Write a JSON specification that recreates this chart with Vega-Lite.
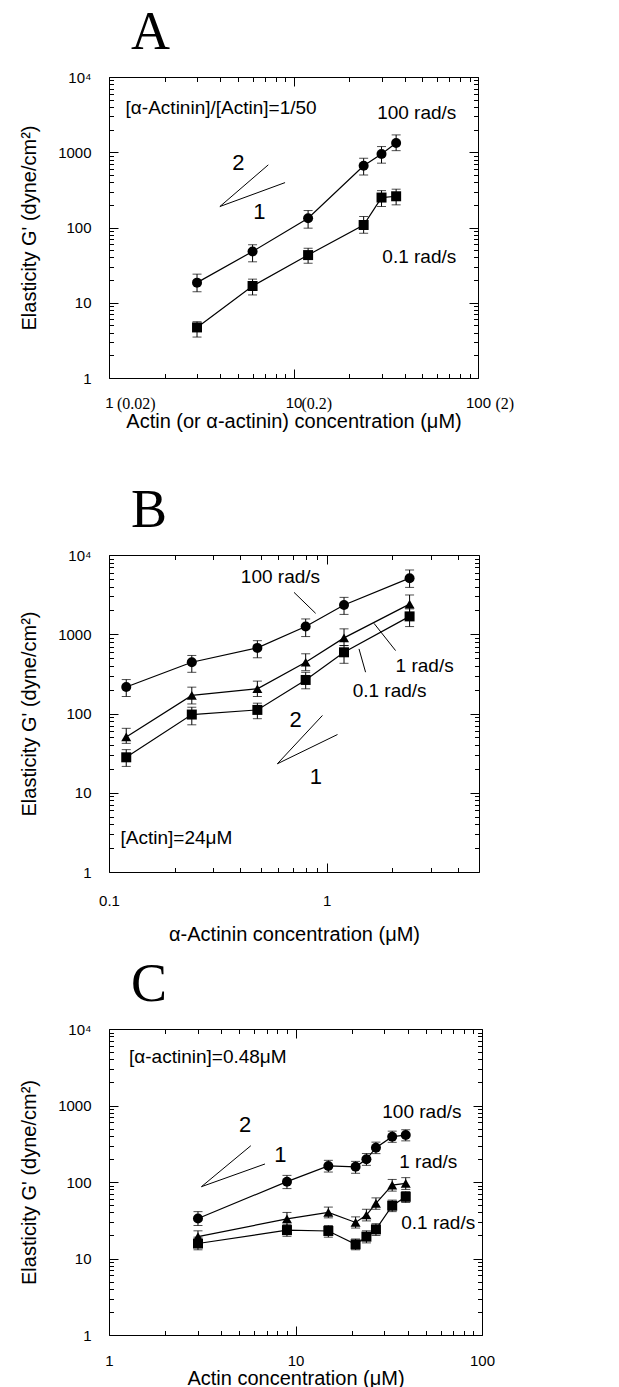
{
  "$schema": "https://vega.github.io/schema/vega-lite/v6.json",
  "padding": {"left": 18, "top": 5, "right": 5, "bottom": 0},
  "spacing": 51,
  "config": {
    "view": {"stroke": "black", "strokeWidth": 1},
    "axis": {"domain": false, "grid": false, "tickColor": "black", "tickWidth": 1, "labelColor": "black", "titleColor": "black", "labelFont": "Liberation Sans", "titleFont": "Liberation Sans", "titleFontWeight": "normal", "labelFlush": false, "labelOverlap": false},
    "title": {"font": "Liberation Serif", "fontSize": 54, "fontWeight": "normal", "color": "black", "anchor": "start", "frame": "group"}
  },
  "datasets": {
    "A": [
      {"freq": "100 rad/s", "conc": 3, "G": 18.5, "lo": 14, "hi": 24},
      {"freq": "100 rad/s", "conc": 6, "G": 48, "lo": 35, "hi": 59},
      {"freq": "100 rad/s", "conc": 12, "G": 133, "lo": 98, "hi": 168},
      {"freq": "100 rad/s", "conc": 24, "G": 660, "lo": 500, "hi": 830},
      {"freq": "100 rad/s", "conc": 30, "G": 950, "lo": 716, "hi": 1190},
      {"freq": "100 rad/s", "conc": 36, "G": 1330, "lo": 1050, "hi": 1700},
      {"freq": "0.1 rad/s", "conc": 3, "G": 4.7, "lo": 3.5, "hi": 5.6},
      {"freq": "0.1 rad/s", "conc": 6, "G": 16.7, "lo": 12.7, "hi": 20.6},
      {"freq": "0.1 rad/s", "conc": 12, "G": 43, "lo": 33.5, "hi": 53},
      {"freq": "0.1 rad/s", "conc": 24, "G": 108, "lo": 84, "hi": 140},
      {"freq": "0.1 rad/s", "conc": 30, "G": 250, "lo": 190, "hi": 309},
      {"freq": "0.1 rad/s", "conc": 36, "G": 260, "lo": 200, "hi": 323}
    ],
    "Atext": [
      {"x": 1.23, "y": 3890, "label": "[α-Actinin]/[Actin]=1/50"},
      {"x": 28.4, "y": 3340, "label": "100 rad/s"},
      {"x": 30.3, "y": 40.6, "label": "0.1 rad/s"}
    ],
    "Alines": [
      {"g": "slope", "o": 1, "x": 7.3, "y": 680},
      {"g": "slope", "o": 2, "x": 3.99, "y": 190},
      {"g": "slope", "o": 3, "x": 9.0, "y": 395}
    ],
    "Anum": [
      {"x": 5.03, "y": 722, "label": "2"},
      {"x": 6.54, "y": 161, "label": "1"}
    ],
    "B": [
      {"freq": "100 rad/s", "conc": 0.12, "G": 216, "lo": 164, "hi": 268},
      {"freq": "100 rad/s", "conc": 0.24, "G": 443, "lo": 331, "hi": 540},
      {"freq": "100 rad/s", "conc": 0.48, "G": 673, "lo": 505, "hi": 830},
      {"freq": "100 rad/s", "conc": 0.8, "G": 1250, "lo": 935, "hi": 1560},
      {"freq": "100 rad/s", "conc": 1.2, "G": 2340, "lo": 1780, "hi": 2920},
      {"freq": "100 rad/s", "conc": 2.4, "G": 5100, "lo": 3900, "hi": 6470},
      {"freq": "1 rad/s", "conc": 0.12, "G": 50.6, "lo": 42, "hi": 65},
      {"freq": "1 rad/s", "conc": 0.24, "G": 169, "lo": 132, "hi": 215},
      {"freq": "1 rad/s", "conc": 0.48, "G": 205, "lo": 164, "hi": 256},
      {"freq": "1 rad/s", "conc": 0.8, "G": 443, "lo": 347, "hi": 567},
      {"freq": "1 rad/s", "conc": 1.2, "G": 900, "lo": 720, "hi": 1170},
      {"freq": "1 rad/s", "conc": 2.4, "G": 2400, "lo": 1820, "hi": 3130},
      {"freq": "0.1 rad/s", "conc": 0.12, "G": 28, "lo": 21.5, "hi": 35},
      {"freq": "0.1 rad/s", "conc": 0.24, "G": 97, "lo": 72, "hi": 120},
      {"freq": "0.1 rad/s", "conc": 0.48, "G": 111, "lo": 86, "hi": 135},
      {"freq": "0.1 rad/s", "conc": 0.8, "G": 265, "lo": 205, "hi": 331},
      {"freq": "0.1 rad/s", "conc": 1.2, "G": 592, "lo": 430, "hi": 720},
      {"freq": "0.1 rad/s", "conc": 2.4, "G": 1680, "lo": 1250, "hi": 2090}
    ],
    "Btext": [
      {"x": 0.403, "y": 5220, "label": "100 rad/s"},
      {"x": 2.07, "y": 403, "label": "1 rad/s"},
      {"x": 1.315, "y": 195, "label": "0.1 rad/s"},
      {"x": 0.113, "y": 2.66, "label": "[Actin]=24μM"}
    ],
    "Blines": [
      {"g": "slope", "o": 1, "x": 0.955, "y": 94.4},
      {"g": "slope", "o": 2, "x": 0.593, "y": 23.2},
      {"g": "slope", "o": 3, "x": 1.12, "y": 54.3},
      {"g": "l100", "o": 1, "x": 0.707, "y": 3380},
      {"g": "l100", "o": 2, "x": 0.889, "y": 1836},
      {"g": "l1", "o": 1, "x": 1.647, "y": 1374},
      {"g": "l1", "o": 2, "x": 2.07, "y": 622},
      {"g": "l01", "o": 1, "x": 1.406, "y": 653},
      {"g": "l01", "o": 2, "x": 1.507, "y": 332}
    ],
    "Bnum": [
      {"x": 0.72, "y": 81.6, "label": "2"},
      {"x": 0.89, "y": 15.7, "label": "1"}
    ],
    "C": [
      {"freq": "100 rad/s", "conc": 3, "G": 33.4, "lo": 27, "hi": 41},
      {"freq": "100 rad/s", "conc": 9, "G": 101, "lo": 82, "hi": 122},
      {"freq": "100 rad/s", "conc": 15, "G": 162, "lo": 135, "hi": 192},
      {"freq": "100 rad/s", "conc": 21, "G": 158, "lo": 130, "hi": 186},
      {"freq": "100 rad/s", "conc": 24, "G": 198, "lo": 165, "hi": 236},
      {"freq": "100 rad/s", "conc": 27, "G": 281, "lo": 235, "hi": 332},
      {"freq": "100 rad/s", "conc": 33, "G": 391, "lo": 330, "hi": 462},
      {"freq": "100 rad/s", "conc": 39, "G": 411, "lo": 345, "hi": 482},
      {"freq": "1 rad/s", "conc": 3, "G": 19.3, "lo": 16, "hi": 23},
      {"freq": "1 rad/s", "conc": 9, "G": 33, "lo": 27, "hi": 40},
      {"freq": "1 rad/s", "conc": 15, "G": 40, "lo": 34, "hi": 47},
      {"freq": "1 rad/s", "conc": 21, "G": 29.6, "lo": 25, "hi": 35},
      {"freq": "1 rad/s", "conc": 24, "G": 37, "lo": 31, "hi": 44},
      {"freq": "1 rad/s", "conc": 27, "G": 52.5, "lo": 44, "hi": 62},
      {"freq": "1 rad/s", "conc": 33, "G": 91, "lo": 76, "hi": 108},
      {"freq": "1 rad/s", "conc": 39, "G": 96, "lo": 80, "hi": 114},
      {"freq": "0.1 rad/s", "conc": 3, "G": 15.7, "lo": 13, "hi": 19},
      {"freq": "0.1 rad/s", "conc": 9, "G": 23.5, "lo": 19.5, "hi": 28},
      {"freq": "0.1 rad/s", "conc": 15, "G": 22.9, "lo": 19, "hi": 27},
      {"freq": "0.1 rad/s", "conc": 21, "G": 15.3, "lo": 13, "hi": 18},
      {"freq": "0.1 rad/s", "conc": 24, "G": 19.3, "lo": 16, "hi": 23},
      {"freq": "0.1 rad/s", "conc": 27, "G": 24, "lo": 20, "hi": 28.5},
      {"freq": "0.1 rad/s", "conc": 33, "G": 49, "lo": 41, "hi": 58},
      {"freq": "0.1 rad/s", "conc": 39, "G": 64, "lo": 54, "hi": 75}
    ],
    "Ctext": [
      {"x": 1.28, "y": 4350, "label": "[α-actinin]=0.48μM"},
      {"x": 29.2, "y": 830, "label": "100 rad/s"},
      {"x": 36, "y": 180, "label": "1 rad/s"},
      {"x": 36.9, "y": 28.8, "label": "0.1 rad/s"}
    ],
    "Clines": [
      {"g": "slope", "o": 1, "x": 5.76, "y": 298},
      {"g": "slope", "o": 2, "x": 3.13, "y": 86.8},
      {"g": "slope", "o": 3, "x": 6.86, "y": 172}
    ],
    "Cnum": [
      {"x": 5.37, "y": 556, "label": "2"},
      {"x": 8.3, "y": 225, "label": "1"}
    ]
  },
  "vconcat": [
    {
      "title": {"text": "A", "dx": 22, "offset": 10},
      "width": 369,
      "height": 301,
      "resolve": {"axis": {"x": "independent", "y": "independent"}},
      "layer": [
        {
          "data": {"name": "A"},
          "mark": {"type": "line", "color": "black", "strokeWidth": 1.2},
          "encoding": {
            "x": {"field": "conc", "type": "quantitative", "scale": {"type": "log", "domain": [1, 100], "nice": false},
              "axis": {"orient": "bottom", "values": [1, 10, 100], "tickSize": -9, "labelExpr": "datum.value == 1 ? '1' : datum.value == 10 ? '10' : '100'", "labelFontSize": 15, "labelPadding": 26, "title": "Actin (or α-actinin) concentration (μM)", "titleFontSize": 20, "titleBaseline": "alphabetic", "titleY": 49}},
            "y": {"field": "G", "type": "quantitative", "scale": {"type": "log", "domain": [1, 10000], "nice": false},
              "axis": {"orient": "left", "values": [1, 10, 100, 1000, 10000], "tickSize": -9, "labelExpr": "datum.value == 10000 ? '10⁴' : '' + datum.value", "labelFontSize": 15, "labelPadding": 27, "title": "Elasticity G' (dyne/cm²)", "titleFontSize": 20, "titleBaseline": "alphabetic", "titleX": -74}},
            "detail": {"field": "freq"}
          }
        },
        {
          "data": {"name": "A"},
          "mark": {"type": "errorbar", "ticks": {"size": 9}, "color": "black", "thickness": 1},
          "encoding": {
            "x": {"field": "conc", "type": "quantitative", "scale": {"type": "log", "domain": [1, 100], "nice": false},
              "axis": {"orient": "bottom", "values": [2, 3, 4, 5, 6, 7, 8, 9, 20, 30, 40, 50, 60, 70, 80, 90], "tickSize": -4.5, "labels": false, "title": null}},
            "y": {"field": "lo", "type": "quantitative", "scale": {"type": "log", "domain": [1, 10000], "nice": false},
              "axis": {"orient": "left", "values": [2, 3, 4, 5, 6, 7, 8, 9, 20, 30, 40, 50, 60, 70, 80, 90, 200, 300, 400, 500, 600, 700, 800, 900, 2000, 3000, 4000, 5000, 6000, 7000, 8000, 9000], "tickSize": -4.5, "labels": false, "title": null}},
            "y2": {"field": "hi"}
          }
        },
        {
          "data": {"name": "A"},
          "mark": {"type": "point", "filled": true, "color": "black", "size": 100, "opacity": 1},
          "encoding": {
            "x": {"field": "conc", "type": "quantitative", "scale": {"type": "log", "domain": [1, 100], "nice": false},
              "axis": {"orient": "top", "values": [1, 10, 100], "tickSize": -9, "labels": false, "title": null}},
            "y": {"field": "G", "type": "quantitative", "scale": {"type": "log", "domain": [1, 10000], "nice": false},
              "axis": {"orient": "right", "values": [1, 10, 100, 1000, 10000], "tickSize": -9, "labels": false, "title": null}},
            "shape": {"field": "freq", "type": "nominal", "scale": {"domain": ["100 rad/s", "1 rad/s", "0.1 rad/s"], "range": ["circle", "triangle-up", "square"]}, "legend": null}
          }
        },
        {
          "data": {"name": "Atext"},
          "mark": {"type": "text", "align": "left", "baseline": "middle", "font": "Liberation Sans", "fontSize": 19, "color": "black"},
          "encoding": {
            "x": {"field": "x", "type": "quantitative", "scale": {"type": "log", "domain": [1, 100], "nice": false},
              "axis": {"orient": "top", "values": [2, 3, 4, 5, 6, 7, 8, 9, 20, 30, 40, 50, 60, 70, 80, 90], "tickSize": -4.5, "labels": false, "title": null}},
            "y": {"field": "y", "type": "quantitative", "scale": {"type": "log", "domain": [1, 10000], "nice": false},
              "axis": {"orient": "right", "values": [2, 3, 4, 5, 6, 7, 8, 9, 20, 30, 40, 50, 60, 70, 80, 90, 200, 300, 400, 500, 600, 700, 800, 900, 2000, 3000, 4000, 5000, 6000, 7000, 8000, 9000], "tickSize": -4.5, "labels": false, "title": null}},
            "text": {"field": "label"}
          }
        },
        {
          "data": {"name": "Alines"},
          "mark": {"type": "line", "color": "black", "strokeWidth": 1},
          "encoding": {
            "x": {"field": "x", "type": "quantitative", "scale": {"type": "log", "domain": [1, 100], "nice": false},
              "axis": {"orient": "bottom", "values": [1, 10, 100], "ticks": false, "labelExpr": "datum.value == 1 ? '(0.02)' : datum.value == 10 ? '(0.2)' : '(2)'", "labelFont": "Liberation Serif", "labelFontSize": 16, "labelAlign": "left", "labelOffset": {"condition": {"test": "datum.value == 100", "value": 17}, "value": 7.5}, "labelPadding": 17, "title": null}},
            "y": {"field": "y", "type": "quantitative", "scale": {"type": "log", "domain": [1, 10000], "nice": false}, "axis": null},
            "detail": {"field": "g"},
            "order": {"field": "o"}
          }
        },
        {
          "data": {"name": "Anum"},
          "mark": {"type": "text", "align": "center", "baseline": "middle", "font": "Liberation Sans", "fontSize": 22, "color": "black"},
          "encoding": {
            "x": {"field": "x", "type": "quantitative", "scale": {"type": "log", "domain": [1, 100], "nice": false}, "axis": null},
            "y": {"field": "y", "type": "quantitative", "scale": {"type": "log", "domain": [1, 10000], "nice": false}, "axis": null},
            "text": {"field": "label"}
          }
        }
      ]
    },
    {
      "spacing": 12,
      "vconcat": [
        {
          "title": {"text": "B", "dx": 22, "offset": 10},
          "width": 370,
          "height": 317,
          "resolve": {"axis": {"x": "independent", "y": "independent"}},
          "layer": [
            {
              "data": {"name": "B"},
              "mark": {"type": "line", "color": "black", "strokeWidth": 1.2},
              "encoding": {
                "x": {"field": "conc", "type": "quantitative", "scale": {"type": "log", "domain": [0.1, 5], "nice": false},
                  "axis": {"orient": "bottom", "values": [0.1, 1], "tickSize": -9, "labelExpr": "datum.value < 0.5 ? '0.1' : '1'", "labelFontSize": 15, "labelPadding": 30, "title": "α-Actinin concentration (μM)", "titleFontSize": 20, "titleBaseline": "alphabetic", "titleY": 68}},
                "y": {"field": "G", "type": "quantitative", "scale": {"type": "log", "domain": [1, 10000], "nice": false},
                  "axis": {"orient": "left", "values": [1, 10, 100, 1000, 10000], "tickSize": -9, "labelExpr": "datum.value == 10000 ? '10⁴' : '' + datum.value", "labelFontSize": 15, "labelPadding": 27, "title": "Elasticity G' (dyne/cm²)", "titleFontSize": 20, "titleBaseline": "alphabetic", "titleX": -74}},
                "detail": {"field": "freq"}
              }
            },
            {
              "data": {"name": "B"},
              "mark": {"type": "errorbar", "ticks": {"size": 9}, "color": "black", "thickness": 1},
              "encoding": {
                "x": {"field": "conc", "type": "quantitative", "scale": {"type": "log", "domain": [0.1, 5], "nice": false},
                  "axis": {"orient": "bottom", "values": [0.2, 0.3, 0.4, 0.5, 0.6, 0.7, 0.8, 0.9, 2, 3, 4], "tickSize": -4.5, "labels": false, "title": null}},
                "y": {"field": "lo", "type": "quantitative", "scale": {"type": "log", "domain": [1, 10000], "nice": false},
                  "axis": {"orient": "left", "values": [2, 3, 4, 5, 6, 7, 8, 9, 20, 30, 40, 50, 60, 70, 80, 90, 200, 300, 400, 500, 600, 700, 800, 900, 2000, 3000, 4000, 5000, 6000, 7000, 8000, 9000], "tickSize": -4.5, "labels": false, "title": null}},
                "y2": {"field": "hi"}
              }
            },
            {
              "data": {"name": "B"},
              "mark": {"type": "point", "filled": true, "color": "black", "size": 100, "opacity": 1},
              "encoding": {
                "x": {"field": "conc", "type": "quantitative", "scale": {"type": "log", "domain": [0.1, 5], "nice": false},
                  "axis": {"orient": "top", "values": [0.1, 1], "tickSize": -9, "labels": false, "title": null}},
                "y": {"field": "G", "type": "quantitative", "scale": {"type": "log", "domain": [1, 10000], "nice": false},
                  "axis": {"orient": "right", "values": [1, 10, 100, 1000, 10000], "tickSize": -9, "labels": false, "title": null}},
                "shape": {"field": "freq", "type": "nominal", "scale": {"domain": ["100 rad/s", "1 rad/s", "0.1 rad/s"], "range": ["circle", "triangle-up", "square"]}, "legend": null}
              }
            },
            {
              "data": {"name": "Btext"},
              "mark": {"type": "text", "align": "left", "baseline": "middle", "font": "Liberation Sans", "fontSize": 19, "color": "black"},
              "encoding": {
                "x": {"field": "x", "type": "quantitative", "scale": {"type": "log", "domain": [0.1, 5], "nice": false},
                  "axis": {"orient": "top", "values": [0.2, 0.3, 0.4, 0.5, 0.6, 0.7, 0.8, 0.9, 2, 3, 4], "tickSize": -4.5, "labels": false, "title": null}},
                "y": {"field": "y", "type": "quantitative", "scale": {"type": "log", "domain": [1, 10000], "nice": false},
                  "axis": {"orient": "right", "values": [2, 3, 4, 5, 6, 7, 8, 9, 20, 30, 40, 50, 60, 70, 80, 90, 200, 300, 400, 500, 600, 700, 800, 900, 2000, 3000, 4000, 5000, 6000, 7000, 8000, 9000], "tickSize": -4.5, "labels": false, "title": null}},
                "text": {"field": "label"}
              }
            },
            {
              "data": {"name": "Blines"},
              "mark": {"type": "line", "color": "black", "strokeWidth": 1},
              "encoding": {
                "x": {"field": "x", "type": "quantitative", "scale": {"type": "log", "domain": [0.1, 5], "nice": false}, "axis": null},
                "y": {"field": "y", "type": "quantitative", "scale": {"type": "log", "domain": [1, 10000], "nice": false}, "axis": null},
                "detail": {"field": "g"},
                "order": {"field": "o"}
              }
            },
            {
              "data": {"name": "Bnum"},
              "mark": {"type": "text", "align": "center", "baseline": "middle", "font": "Liberation Sans", "fontSize": 22, "color": "black"},
              "encoding": {
                "x": {"field": "x", "type": "quantitative", "scale": {"type": "log", "domain": [0.1, 5], "nice": false}, "axis": null},
                "y": {"field": "y", "type": "quantitative", "scale": {"type": "log", "domain": [1, 10000], "nice": false}, "axis": null},
                "text": {"field": "label"}
              }
            }
          ]
        },
        {
          "title": {"text": "C", "dx": 22, "offset": 10},
          "width": 373,
          "height": 306,
          "resolve": {"axis": {"x": "independent", "y": "independent"}},
          "layer": [
            {
              "data": {"name": "C"},
              "mark": {"type": "line", "color": "black", "strokeWidth": 1.2},
              "encoding": {
                "x": {"field": "conc", "type": "quantitative", "scale": {"type": "log", "domain": [1, 100], "nice": false},
                  "axis": {"orient": "bottom", "values": [1, 10, 100], "tickSize": -9, "labelExpr": "datum.value == 1 ? '1' : datum.value == 10 ? '10' : '100'", "labelFontSize": 15, "labelPadding": 27, "title": "Actin concentration (μM)", "titleFontSize": 20, "titleBaseline": "alphabetic", "titleY": 49}},
                "y": {"field": "G", "type": "quantitative", "scale": {"type": "log", "domain": [1, 10000], "nice": false},
                  "axis": {"orient": "left", "values": [1, 10, 100, 1000, 10000], "tickSize": -9, "labelExpr": "datum.value == 10000 ? '10⁴' : '' + datum.value", "labelFontSize": 15, "labelPadding": 27, "title": "Elasticity G' (dyne/cm²)", "titleFontSize": 20, "titleBaseline": "alphabetic", "titleX": -74}},
                "detail": {"field": "freq"}
              }
            },
            {
              "data": {"name": "C"},
              "mark": {"type": "errorbar", "ticks": {"size": 9}, "color": "black", "thickness": 1},
              "encoding": {
                "x": {"field": "conc", "type": "quantitative", "scale": {"type": "log", "domain": [1, 100], "nice": false},
                  "axis": {"orient": "bottom", "values": [2, 3, 4, 5, 6, 7, 8, 9, 20, 30, 40, 50, 60, 70, 80, 90], "tickSize": -4.5, "labels": false, "title": null}},
                "y": {"field": "lo", "type": "quantitative", "scale": {"type": "log", "domain": [1, 10000], "nice": false},
                  "axis": {"orient": "left", "values": [2, 3, 4, 5, 6, 7, 8, 9, 20, 30, 40, 50, 60, 70, 80, 90, 200, 300, 400, 500, 600, 700, 800, 900, 2000, 3000, 4000, 5000, 6000, 7000, 8000, 9000], "tickSize": -4.5, "labels": false, "title": null}},
                "y2": {"field": "hi"}
              }
            },
            {
              "data": {"name": "C"},
              "mark": {"type": "point", "filled": true, "color": "black", "size": 100, "opacity": 1},
              "encoding": {
                "x": {"field": "conc", "type": "quantitative", "scale": {"type": "log", "domain": [1, 100], "nice": false},
                  "axis": {"orient": "top", "values": [1, 10, 100], "tickSize": -9, "labels": false, "title": null}},
                "y": {"field": "G", "type": "quantitative", "scale": {"type": "log", "domain": [1, 10000], "nice": false},
                  "axis": {"orient": "right", "values": [1, 10, 100, 1000, 10000], "tickSize": -9, "labels": false, "title": null}},
                "shape": {"field": "freq", "type": "nominal", "scale": {"domain": ["100 rad/s", "1 rad/s", "0.1 rad/s"], "range": ["circle", "triangle-up", "square"]}, "legend": null}
              }
            },
            {
              "data": {"name": "Ctext"},
              "mark": {"type": "text", "align": "left", "baseline": "middle", "font": "Liberation Sans", "fontSize": 19, "color": "black"},
              "encoding": {
                "x": {"field": "x", "type": "quantitative", "scale": {"type": "log", "domain": [1, 100], "nice": false},
                  "axis": {"orient": "top", "values": [2, 3, 4, 5, 6, 7, 8, 9, 20, 30, 40, 50, 60, 70, 80, 90], "tickSize": -4.5, "labels": false, "title": null}},
                "y": {"field": "y", "type": "quantitative", "scale": {"type": "log", "domain": [1, 10000], "nice": false},
                  "axis": {"orient": "right", "values": [2, 3, 4, 5, 6, 7, 8, 9, 20, 30, 40, 50, 60, 70, 80, 90, 200, 300, 400, 500, 600, 700, 800, 900, 2000, 3000, 4000, 5000, 6000, 7000, 8000, 9000], "tickSize": -4.5, "labels": false, "title": null}},
                "text": {"field": "label"}
              }
            },
            {
              "data": {"name": "Clines"},
              "mark": {"type": "line", "color": "black", "strokeWidth": 1},
              "encoding": {
                "x": {"field": "x", "type": "quantitative", "scale": {"type": "log", "domain": [1, 100], "nice": false}, "axis": null},
                "y": {"field": "y", "type": "quantitative", "scale": {"type": "log", "domain": [1, 10000], "nice": false}, "axis": null},
                "detail": {"field": "g"},
                "order": {"field": "o"}
              }
            },
            {
              "data": {"name": "Cnum"},
              "mark": {"type": "text", "align": "center", "baseline": "middle", "font": "Liberation Sans", "fontSize": 22, "color": "black"},
              "encoding": {
                "x": {"field": "x", "type": "quantitative", "scale": {"type": "log", "domain": [1, 100], "nice": false}, "axis": null},
                "y": {"field": "y", "type": "quantitative", "scale": {"type": "log", "domain": [1, 10000], "nice": false}, "axis": null},
                "text": {"field": "label"}
              }
            }
          ]
        }
      ]
    }
  ]
}
